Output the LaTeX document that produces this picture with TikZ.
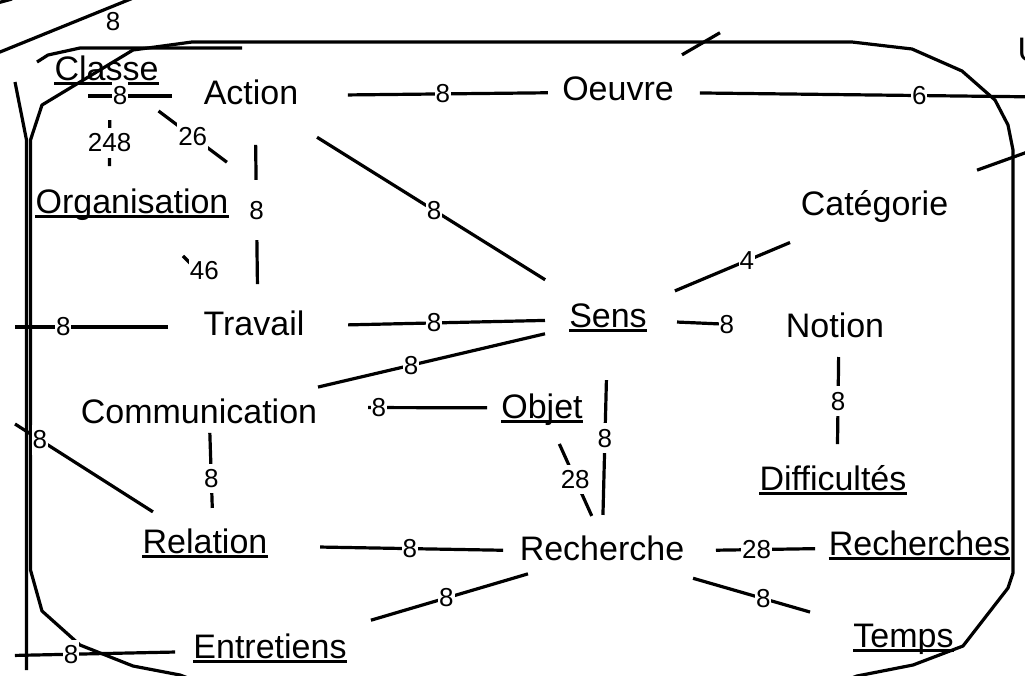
\documentclass[tikz,border=0pt]{standalone}
\usepackage{fontspec}
\setmainfont{Liberation Sans}
\usetikzlibrary{calc}
\begin{document}
\begin{tikzpicture}[x=1pt,y=-1pt,
  conn/.style={line width=3.2pt},
  outline/.style={line width=3.2pt, line join=round},
  word/.style={font=\fontsize{34}{40}\selectfont, inner sep=0pt, text height=16pt, text depth=0pt, anchor=center},
  lbl/.style={font=\fontsize{26}{30}\selectfont, fill=white, inner xsep=1pt, inner ysep=5.5pt},
  uline/.style={line width=2.8pt}]
\useasboundingbox (0,0) rectangle (1025,675);

% off-picture ends
\coordinate (offR1) at (1300,100);
\coordinate (offTR) at (1000,-130);
\coordinate (offR2) at (1200,90);
\coordinate (offL1) at (-200,96);
\coordinate (offL2) at (-175,303);
\coordinate (offL3) at (-200,660);
\coordinate (offL4) at (-200,327);
\coordinate (h26) at (280,202);
\coordinate (offTL1) at (-50,72.3);
\coordinate (offTL2) at (180,-21);
\coordinate (offTL3) at (-10,5);
\coordinate (offTL4) at (12,-1);

% outlines
\draw[outline] (30.5,570) -- (30.5,140) -- (42,105) -- (133,50) -- (192,42) -- (852,42)
  -- (912,49) -- (962,71) -- (995,100) -- (1008,125) -- (1013,150) -- (1013,573)
  -- (1008,588) -- (963,646) -- (913,665) -- (857,676) -- (820,690) -- (220,690)
  -- (180,675) -- (133,666) -- (80,645) -- (42,611) -- cycle;
\draw[outline] (15,82) -- (26.5,140) -- (26.5,670);
\draw[outline] (37,62) -- (48,55) -- (80,48) -- (242,48);
\draw[conn] (offTL1) -- (offTL2);
\draw[conn] (offTL3) -- (offTL4);

% words
\node[word] (Classe) at (106.5,72) {Classe};
\node[word] (Action) at (251,96) {Action};
\node[word] (Oeuvre) at (618,92) {Oeuvre};
\node[word] (Categorie) at (874.5,207) {Catégorie};
\node[word] (Organisation) at (132,205) {Organisation};
\node[word] (Travail) at (254,327) {Travail};
\node[word] (Sens) at (608,319) {Sens};
\node[word] (Notion) at (835,329) {Notion};
\node[word] (Communication) at (199,415) {Communication};
\node[word] (Objet) at (542,410) {Objet};
\node[word] (Difficultes) at (833,482) {Difficultés};
\node[word] (Relation) at (205,545) {Relation};
\node[word] (Recherche) at (602,552) {Recherche};
\node[word] (Recherches) at (919.5,547) {Recherches};
\node[word] (Entretiens) at (270,650) {Entretiens};
\node[word] (Temps) at (903.5,639) {Temps};
\node[font=\fontsize{34}{40}\selectfont, inner sep=0pt, anchor=base west] (U) at (1017.5,61.5) {U};

\foreach \n in {Classe,Organisation,Sens,Objet,Difficultes,Relation,Recherches,Entretiens,Temps}
  \draw[uline] ([yshift=-3.5pt]\n.base west) -- ([yshift=-3.5pt]\n.base east);

% connectors
\draw[conn] ($(Action)!0.175!(offL1)$) -- node[lbl,pos=0.62]{8} ($(Action)!0.361!(offL1)$);
\draw[conn] ($(Action)!0.264!(Oeuvre)$) -- node[lbl,pos=0.475]{8} ($(Action)!0.809!(Oeuvre)$);
\draw[conn] ($(Oeuvre)!0.12!(offR1)$) -- node[lbl,pos=0.607]{6} ($(Oeuvre)!0.65!(offR1)$);
\draw[conn] ($(Oeuvre)!0.1675!(offTR)$) -- ($(Oeuvre)!0.267!(offTR)$);
\draw[conn] ($(Categorie)!0.315!(offR2)$) -- ($(Categorie)!0.6!(offR2)$);
\draw[conn] ($(Action)!0.185!(Sens)$) -- node[lbl,pos=0.513]{8} ($(Action)!0.824!(Sens)$);
\draw[conn] ($(Classe)!0.30!(h26)$) -- node[lbl,pos=0.5]{26} ($(Classe)!0.694!(h26)$);
\draw[conn] ($(Action)!0.212!(Travail)+(4,0)$) -- node[lbl,pos=0.468,inner ysep=21pt]{8} ($(Action)!0.814!(Travail)+(4,0)$);
\draw[conn] ($(Classe)!0.361!(Organisation)+(-6,0)$) -- node[lbl,pos=0.5]{248} ($(Classe)!0.707!(Organisation)+(-15,0)$);
\draw[conn] ($(Organisation)!0.418!(Travail)$) -- ($(Organisation)!0.56!(Travail)$) node[lbl,xshift=4pt,yshift=3pt]{46};
\draw[conn] ($(Travail)!0.189!(offL4)$) -- node[lbl,pos=0.686]{8} ($(Travail)!0.526!(offL4)$);
\draw[conn] ($(Travail)!0.266!(Sens)$) -- node[lbl,pos=0.437]{8} ($(Travail)!0.822!(Sens)$);
\draw[conn] ($(Communication)!0.291!(Sens)$) -- node[lbl,pos=0.41]{8} ($(Communication)!0.846!(Sens)$);
\draw[conn] ($(Sens)!0.304!(Notion)$) -- node[lbl,pos=0.86]{8} ($(Sens)!0.559!(Notion)$);
\draw[conn] ($(Sens)!0.251!(Categorie)$) -- node[lbl,pos=0.626]{4} ($(Sens)!0.683!(Categorie)$);
\draw[conn] ($(Notion)!0.183!(Difficultes)+(4,0)$) -- node[lbl,pos=0.506]{8} ($(Notion)!0.752!(Difficultes)+(4,0)$);
\draw[conn] ($(Communication)!0.493!(Objet)+(0,-5)$) -- node[lbl,pos=0.09]{8} ($(Communication)!0.840!(Objet)+(0,-3)$);
\draw[conn] ($(Sens)!0.262!(Recherche)$) -- node[lbl,pos=0.43]{8} ($(Sens)!0.841!(Recherche)$);
\draw[conn] ($(Objet)!0.239!(Recherche)+(3,0)$) -- node[lbl,pos=0.49]{28} ($(Objet)!0.746!(Recherche)+(5,0)$);
\draw[conn] ($(Communication)!0.138!(Relation)+(10,0)$) -- node[lbl,pos=0.61]{8} ($(Communication)!0.715!(Relation)+(9,0)$);
\draw[conn] ($(offL2)!0.5!(Relation)$) -- node[lbl,pos=0.18]{8} ($(offL2)!0.863!(Relation)$);
\draw[conn] ($(Relation)!0.29!(Recherche)$) -- node[lbl,pos=0.49]{8} ($(Relation)!0.751!(Recherche)$);
\draw[conn] ($(Recherche)!0.359!(Recherches)$) -- node[lbl,pos=0.41]{28} ($(Recherche)!0.671!(Recherches)$);
\draw[conn] ($(Recherche)!0.302!(Temps)$) -- node[lbl,pos=0.6]{8} ($(Recherche)!0.69!(Temps)$);
\draw[conn] ($(Recherche)!0.223!(Entretiens)$) -- node[lbl,pos=0.52]{8} ($(Recherche)!0.696!(Entretiens)$);
\draw[conn] ($(Entretiens)!0.202!(offL3)$) -- node[lbl,pos=0.65]{8} ($(Entretiens)!0.5426!(offL3)$);
\node[lbl,fill=none] (lbltop) at (113,22) {8};
\end{tikzpicture}
\end{document}
